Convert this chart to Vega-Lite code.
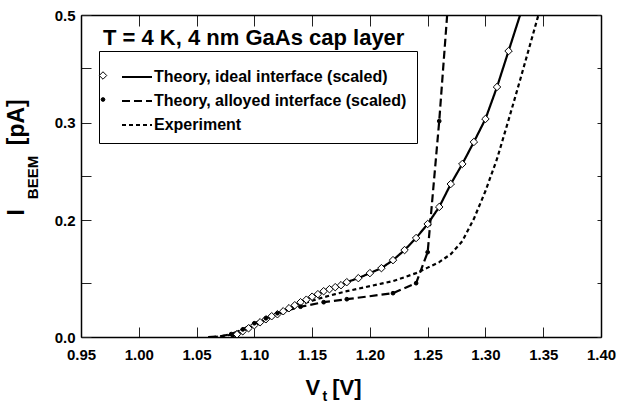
{
  "$schema": "https://vega.github.io/schema/vega-lite/v6.json",
  "width": 520,
  "height": 322,
  "autosize": {"type": "none"},
  "padding": {"left": 81, "top": 15, "right": 18, "bottom": 65},
  "background": "white",
  "config": {
    "view": {"stroke": null},
    "font": "Liberation Sans",
    "axis": {
      "grid": false,
      "domainColor": "black",
      "domainWidth": 1.5,
      "tickColor": "#222",
      "tickWidth": 1,
      "labelFont": "Liberation Sans",
      "labelFontSize": 15,
      "labelFontWeight": "bold",
      "labelColor": "black",
      "titleFont": "Liberation Sans",
      "titleFontWeight": "bold",
      "titleColor": "black",
      "labelFlush": false,
      "labelOverlap": false
    },
    "legend": {
      "labelFont": "Liberation Sans",
      "labelFontSize": 16,
      "labelFontWeight": "bold",
      "labelColor": "black",
      "orient": "none",
      "labelLimit": 400
    }
  },
  "title": {
    "text": "T = 4 K, 4 nm GaAs cap layer",
    "anchor": "start",
    "frame": "group",
    "offset": 0,
    "dx": 22,
    "dy": 59,
    "baseline": "alphabetic",
    "font": "Liberation Sans",
    "fontSize": 22,
    "fontWeight": "bold",
    "color": "black"
  },
  "data": {
    "values": [
      {"series": "Theory, ideal interface (scaled)", "V": 1.08, "I": 0.0},
      {"series": "Theory, ideal interface (scaled)", "V": 1.085, "I": 0.0046},
      {"series": "Theory, ideal interface (scaled)", "V": 1.09, "I": 0.0098},
      {"series": "Theory, ideal interface (scaled)", "V": 1.095, "I": 0.0149},
      {"series": "Theory, ideal interface (scaled)", "V": 1.10, "I": 0.0201},
      {"series": "Theory, ideal interface (scaled)", "V": 1.105, "I": 0.0252},
      {"series": "Theory, ideal interface (scaled)", "V": 1.11, "I": 0.0303},
      {"series": "Theory, ideal interface (scaled)", "V": 1.115, "I": 0.0355},
      {"series": "Theory, ideal interface (scaled)", "V": 1.12, "I": 0.0389},
      {"series": "Theory, ideal interface (scaled)", "V": 1.125, "I": 0.0440},
      {"series": "Theory, ideal interface (scaled)", "V": 1.13, "I": 0.0492},
      {"series": "Theory, ideal interface (scaled)", "V": 1.135, "I": 0.0543},
      {"series": "Theory, ideal interface (scaled)", "V": 1.14, "I": 0.0595},
      {"series": "Theory, ideal interface (scaled)", "V": 1.145, "I": 0.0638},
      {"series": "Theory, ideal interface (scaled)", "V": 1.15, "I": 0.0689},
      {"series": "Theory, ideal interface (scaled)", "V": 1.155, "I": 0.0732},
      {"series": "Theory, ideal interface (scaled)", "V": 1.16, "I": 0.0783},
      {"series": "Theory, ideal interface (scaled)", "V": 1.165, "I": 0.0817},
      {"series": "Theory, ideal interface (scaled)", "V": 1.17, "I": 0.0852},
      {"series": "Theory, ideal interface (scaled)", "V": 1.175, "I": 0.0886},
      {"series": "Theory, ideal interface (scaled)", "V": 1.18, "I": 0.0937},
      {"series": "Theory, ideal interface (scaled)", "V": 1.19, "I": 0.1006},
      {"series": "Theory, ideal interface (scaled)", "V": 1.20, "I": 0.1092},
      {"series": "Theory, ideal interface (scaled)", "V": 1.21, "I": 0.1177},
      {"series": "Theory, ideal interface (scaled)", "V": 1.22, "I": 0.1314},
      {"series": "Theory, ideal interface (scaled)", "V": 1.23, "I": 0.1486},
      {"series": "Theory, ideal interface (scaled)", "V": 1.24, "I": 0.1692},
      {"series": "Theory, ideal interface (scaled)", "V": 1.25, "I": 0.1932},
      {"series": "Theory, ideal interface (scaled)", "V": 1.26, "I": 0.2134},
      {"series": "Theory, ideal interface (scaled)", "V": 1.27, "I": 0.2370},
      {"series": "Theory, ideal interface (scaled)", "V": 1.28, "I": 0.2576},
      {"series": "Theory, ideal interface (scaled)", "V": 1.29, "I": 0.2802},
      {"series": "Theory, ideal interface (scaled)", "V": 1.30, "I": 0.3069},
      {"series": "Theory, ideal interface (scaled)", "V": 1.31, "I": 0.3663},
      {"series": "Theory, ideal interface (scaled)", "V": 1.32, "I": 0.4331},
      {"series": "Theory, ideal interface (scaled)", "V": 1.33, "I": 0.5},
      {"series": "Theory, alloyed interface (scaled)", "V": 1.06, "I": 0.0},
      {"series": "Theory, alloyed interface (scaled)", "V": 1.07, "I": 0.001},
      {"series": "Theory, alloyed interface (scaled)", "V": 1.08, "I": 0.005},
      {"series": "Theory, alloyed interface (scaled)", "V": 1.09, "I": 0.013},
      {"series": "Theory, alloyed interface (scaled)", "V": 1.10, "I": 0.0235},
      {"series": "Theory, alloyed interface (scaled)", "V": 1.11, "I": 0.032},
      {"series": "Theory, alloyed interface (scaled)", "V": 1.12, "I": 0.0406},
      {"series": "Theory, alloyed interface (scaled)", "V": 1.14, "I": 0.0518},
      {"series": "Theory, alloyed interface (scaled)", "V": 1.16, "I": 0.0595},
      {"series": "Theory, alloyed interface (scaled)", "V": 1.18, "I": 0.0646},
      {"series": "Theory, alloyed interface (scaled)", "V": 1.22, "I": 0.0749},
      {"series": "Theory, alloyed interface (scaled)", "V": 1.24, "I": 0.092},
      {"series": "Theory, alloyed interface (scaled)", "V": 1.25, "I": 0.145},
      {"series": "Theory, alloyed interface (scaled)", "V": 1.26, "I": 0.303},
      {"series": "Theory, alloyed interface (scaled)", "V": 1.27, "I": 0.59},
      {"series": "Experiment", "V": 1.065, "I": 0.0},
      {"series": "Experiment", "V": 1.07, "I": 0.001},
      {"series": "Experiment", "V": 1.08, "I": 0.0038},
      {"series": "Experiment", "V": 1.09, "I": 0.0115},
      {"series": "Experiment", "V": 1.10, "I": 0.0209},
      {"series": "Experiment", "V": 1.11, "I": 0.0303},
      {"series": "Experiment", "V": 1.12, "I": 0.0389},
      {"series": "Experiment", "V": 1.13, "I": 0.0475},
      {"series": "Experiment", "V": 1.14, "I": 0.056},
      {"series": "Experiment", "V": 1.15, "I": 0.062},
      {"series": "Experiment", "V": 1.16, "I": 0.068},
      {"series": "Experiment", "V": 1.17, "I": 0.0732},
      {"series": "Experiment", "V": 1.18, "I": 0.0783},
      {"series": "Experiment", "V": 1.19, "I": 0.0826},
      {"series": "Experiment", "V": 1.20, "I": 0.0869},
      {"series": "Experiment", "V": 1.21, "I": 0.0912},
      {"series": "Experiment", "V": 1.22, "I": 0.0955},
      {"series": "Experiment", "V": 1.23, "I": 0.1023},
      {"series": "Experiment", "V": 1.24, "I": 0.1092},
      {"series": "Experiment", "V": 1.25, "I": 0.1186},
      {"series": "Experiment", "V": 1.26, "I": 0.128},
      {"series": "Experiment", "V": 1.27, "I": 0.1417},
      {"series": "Experiment", "V": 1.28, "I": 0.164},
      {"series": "Experiment", "V": 1.29, "I": 0.2012},
      {"series": "Experiment", "V": 1.30, "I": 0.2298},
      {"series": "Experiment", "V": 1.31, "I": 0.2627},
      {"series": "Experiment", "V": 1.32, "I": 0.305},
      {"series": "Experiment", "V": 1.33, "I": 0.3793},
      {"series": "Experiment", "V": 1.34, "I": 0.4554},
      {"series": "Experiment", "V": 1.35, "I": 0.5316}
    ]
  },
  "resolve": {"axis": {"x": "independent", "y": "independent"}},
  "layer": [
    {
      "mark": {"type": "line", "clip": true, "strokeWidth": 2.2, "color": "black"},
      "encoding": {
        "x": {
          "field": "V", "type": "quantitative",
          "scale": {"domain": [0.95, 1.40], "nice": false, "zero": false},
          "axis": {
            "orient": "bottom",
            "values": [0.95, 1.0, 1.05, 1.1, 1.15, 1.2, 1.25, 1.3, 1.35, 1.4],
            "format": ".2f",
            "tickSize": -10,
            "labelPadding": 20,
            "title": "V\u00a0\u00a0[V]",
            "titleFontSize": 22,
            "titleX": 252,
            "titleY": 57,
            "titleAlign": "center",
            "titleBaseline": "alphabetic"
          }
        },
        "y": {
          "field": "I", "type": "quantitative",
          "scale": {"domain": [0, 0.2, 0.3, 0.5], "range": [322, 205, 107.7, 0], "nice": false, "zero": false},
          "axis": {
            "orient": "left",
            "values": [0, 0.0915, 0.2, 0.2455, 0.3, 0.401, 0.5],
            "format": ".1f",
            "labelExpr": "datum.value == 0 || datum.value == 0.2 || datum.value == 0.3 || datum.value == 0.5 ? datum.label : ''",
            "tickSize": -10,
            "labelPadding": 16,
            "title": "I\u00a0\u00a0\u00a0\u00a0\u00a0\u00a0\u00a0\u00a0\u00a0\u00a0[pA]",
            "titleFontSize": 23,
            "titleAngle": -90,
            "titleX": -58,
            "titleY": 200,
            "titleAlign": "left",
            "titleBaseline": "alphabetic"
          }
        },
        "strokeDash": {
          "field": "series", "type": "nominal",
          "scale": {
            "domain": ["Theory, ideal interface (scaled)", "Theory, alloyed interface (scaled)", "Experiment"],
            "range": [[1, 0], [8, 4], [4, 3]]
          },
          "legend": {
            "title": null,
            "legendX": 18,
            "legendY": 36,
            "padding": 10,
            "rowPadding": -3,
            "strokeColor": "black",
            "symbolType": "stroke",
            "symbolSize": 900,
            "symbolStrokeWidth": 2,
            "symbolStrokeColor": "black",
            "symbolOffset": 12,
            "labelOffset": 1
          }
        }
      }
    },
    {
      "transform": [
        {"filter": "datum.series != 'Experiment' && datum.I > 0.001 && datum.I < 0.49"}
      ],
      "mark": {"type": "point", "strokeWidth": 1, "opacity": 1, "filled": true},
      "encoding": {
        "x": {
          "field": "V", "type": "quantitative",
          "scale": {"domain": [0.95, 1.40], "nice": false, "zero": false},
          "axis": {
            "orient": "top",
            "values": [0.95, 1.0, 1.05, 1.1, 1.15, 1.2, 1.25, 1.3, 1.35, 1.4],
            "labels": false,
            "tickSize": -11,
            "title": "t",
            "titleFontSize": 14,
            "titleAngle": 0,
            "titleX": 241,
            "titleY": 385,
            "titleAlign": "left",
            "titleBaseline": "alphabetic"
          }
        },
        "y": {
          "field": "I", "type": "quantitative",
          "scale": {"domain": [0, 0.2, 0.3, 0.5], "range": [322, 205, 107.7, 0], "nice": false, "zero": false},
          "axis": {
            "orient": "right",
            "values": [0, 0.0915, 0.2, 0.2455, 0.3, 0.401, 0.5],
            "labels": false,
            "tickSize": -4,
            "title": "BEEM",
            "titleFontSize": 15,
            "titleAngle": -90,
            "titleX": -564,
            "titleY": 162,
            "titleAlign": "center",
            "titleBaseline": "alphabetic"
          }
        },
        "stroke": {
          "field": "series", "type": "nominal",
          "scale": {"domain": ["Theory, ideal interface (scaled)", "Theory, alloyed interface (scaled)"], "range": ["black", "black"]},
          "legend": {"title": null, "legendX": 18, "legendY": 40.5, "padding": 12, "rowPadding": 8, "symbolOffset": -16, "labelOpacity": 0, "symbolStrokeWidth": 1}
        },
        "shape": {
          "field": "series", "type": "nominal",
          "scale": {"domain": ["Theory, ideal interface (scaled)", "Theory, alloyed interface (scaled)"], "range": ["diamond", "circle"]},
          "legend": {"title": null, "legendX": 18, "legendY": 40.5, "padding": 12, "rowPadding": 8, "symbolOffset": -16, "labelOpacity": 0, "symbolStrokeWidth": 1}
        },
        "fill": {
          "field": "series", "type": "nominal",
          "scale": {"domain": ["Theory, ideal interface (scaled)", "Theory, alloyed interface (scaled)"], "range": ["white", "black"]},
          "legend": {"title": null, "legendX": 18, "legendY": 40.5, "padding": 12, "rowPadding": 8, "symbolOffset": -16, "labelOpacity": 0, "symbolStrokeWidth": 1}
        },
        "size": {
          "field": "series", "type": "nominal",
          "scale": {"domain": ["Theory, ideal interface (scaled)", "Theory, alloyed interface (scaled)"], "range": [56, 14]},
          "legend": {"title": null, "legendX": 18, "legendY": 40.5, "padding": 12, "rowPadding": 8, "symbolOffset": -16, "labelOpacity": 0, "symbolStrokeWidth": 1}
        }
      }
    }
  ]
}
